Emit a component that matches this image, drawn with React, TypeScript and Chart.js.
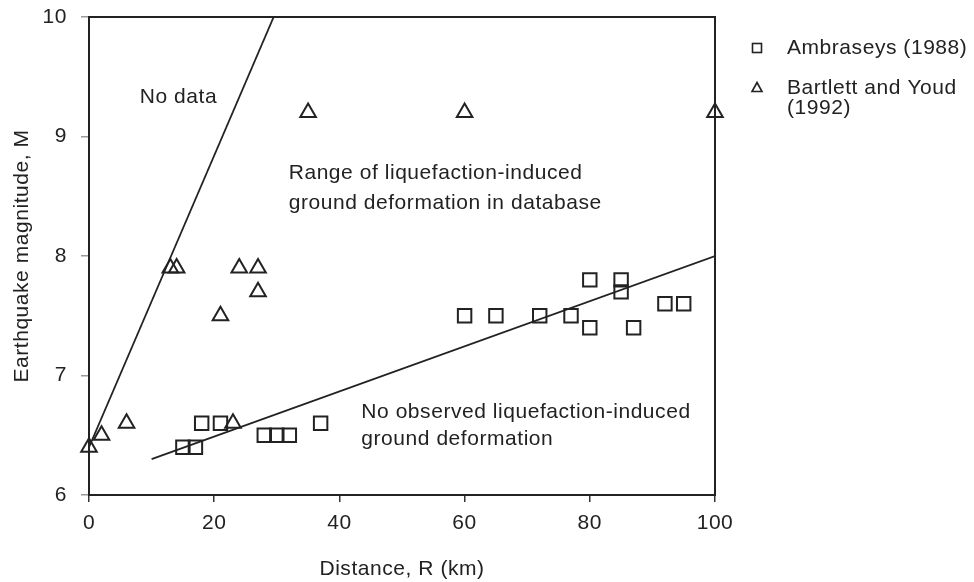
import React, { useEffect, useRef } from "react";
import { Chart, registerables } from "chart.js";

Chart.register(...registerables);

// ---- data ----
const ambraseysR = [15, 17, 18, 21, 28, 30, 32, 37, 60, 65, 72, 77, 80, 80, 85, 85, 87, 92, 95];
const ambraseysM = [6.4, 6.4, 6.6, 6.6, 6.5, 6.5, 6.5, 6.6, 7.5, 7.5, 7.5, 7.5, 7.8, 7.4, 7.8, 7.7, 7.4, 7.6, 7.6];

const bartlettR = [0, 2, 6, 13, 14, 21, 23, 24, 27, 27, 35, 60, 100];
const bartlettM = [6.4, 6.5, 6.6, 7.9, 7.9, 7.5, 6.6, 7.9, 7.9, 7.7, 9.2, 9.2, 9.2];

const upperBoundR = [0, 29.5];
const upperBoundM = [6.4, 10];
const lowerBoundR = [10, 100];
const lowerBoundM = [6.3, 8.0];

const xTickValues = [0, 20, 40, 60, 80, 100];
const yTickValues = [6, 7, 8, 9, 10];

const seriesLabels = ["Ambraseys (1988)", "Bartlett and Youd (1992)"];
const legendLines = [["Ambraseys (1988)"], ["Bartlett and Youd", "(1992)"]];

const noteTexts = [
  "No data",
  "Range of liquefaction-induced",
  "ground deformation in database",
  "No observed liquefaction-induced",
  "ground deformation",
];
const noteR = [8.1, 31.9, 31.9, 43.5, 43.5];
const noteM = [9.33, 8.69, 8.44, 6.69, 6.47];

const FONT = '"Liberation Sans", Arial, sans-serif';
const INK = "#222";
const FONT_SIZE = 21;
const SPACING = "0.55px";

const zip = (xs: number[], ys: number[]) => xs.map((x, i) => ({ x, y: ys[i] }));

export default function App() {
  const ref = useRef<HTMLCanvasElement>(null);

  useEffect(() => {
    const canvas = ref.current;
    if (!canvas) return;
    const c2d: any = canvas.getContext("2d");
    if (c2d) c2d.letterSpacing = SPACING;

    const decor = {
      id: "decor",
      beforeDraw(chart: any) {
        (chart.ctx as any).letterSpacing = SPACING;
      },
      afterDatasetsDraw(chart: any) {
        const { ctx, chartArea: a, scales } = chart;
        ctx.save();
        // frame
        ctx.strokeStyle = INK;
        ctx.lineWidth = 2;
        ctx.strokeRect(a.left, a.top, a.right - a.left, a.bottom - a.top);
        // notes
        ctx.fillStyle = INK;
        ctx.font = `${FONT_SIZE}px ${FONT}`;
        ctx.textBaseline = "middle";
        ctx.textAlign = "left";
        noteTexts.forEach((t, i) => {
          ctx.fillText(t, scales.x.getPixelForValue(noteR[i]), scales.y.getPixelForValue(noteM[i]));
        });
        // legend
        const mx = a.right + 42;
        const tx = a.right + 72;
        const rows = [a.top + 31, a.top + 71];
        ctx.lineWidth = 1.6;
        ctx.strokeRect(mx - 4.5, rows[0] - 4.5, 9, 9);
        ctx.beginPath();
        ctx.moveTo(mx, rows[1] - 5.5);
        ctx.lineTo(mx + 5, rows[1] + 3.5);
        ctx.lineTo(mx - 5, rows[1] + 3.5);
        ctx.closePath();
        ctx.stroke();
        legendLines.forEach((lines, i) => {
          lines.forEach((ln, j) => ctx.fillText(ln, tx, rows[i] + j * 20));
        });
        ctx.restore();
      },
    };

    const chart = new Chart(canvas, {
      type: "scatter",
      data: {
        datasets: [
          {
            label: seriesLabels[0],
            data: zip(ambraseysR, ambraseysM),
            pointStyle: "rect",
            pointRadius: 9.5,
            pointBorderWidth: 2,
            borderColor: INK,
            backgroundColor: "rgba(255,255,255,0)",
            clip: false,
          },
          {
            label: seriesLabels[1],
            data: zip(bartlettR, bartlettM),
            pointStyle: "triangle",
            pointRadius: 9,
            pointBorderWidth: 2,
            borderColor: INK,
            backgroundColor: "rgba(255,255,255,0)",
            clip: false,
          },
          {
            label: "upper",
            data: zip(upperBoundR, upperBoundM),
            showLine: true,
            pointRadius: 0,
            borderColor: INK,
            borderWidth: 1.8,
          },
          {
            label: "lower",
            data: zip(lowerBoundR, lowerBoundM),
            showLine: true,
            pointRadius: 0,
            borderColor: INK,
            borderWidth: 1.8,
          },
        ],
      },
      options: {
        animation: false,
        responsive: false,
        layout: { autoPadding: false, padding: { left: 0, top: 17, right: 259, bottom: 0 } },
        plugins: { legend: { display: false }, tooltip: { enabled: false } },
        scales: {
          x: {
            type: "linear",
            min: 0,
            max: 100,
            afterFit: (s: any) => {
              s.height = 87;
              s.paddingLeft = 0;
              s.paddingRight = 0;
            },
            afterBuildTicks: (s: any) => { s.ticks = xTickValues.map((v) => ({ value: v })); },
            grid: { display: true, drawOnChartArea: false, drawTicks: true, tickLength: 7, color: "#333", lineWidth: 1.5 },
            border: { display: true, color: INK, width: 2 },
            ticks: { color: INK, font: { family: FONT, size: FONT_SIZE }, padding: 9 },
            title: { display: true, text: "Distance, R (km)", color: INK, font: { family: FONT, size: FONT_SIZE }, padding: { top: 4, bottom: 0 } },
          },
          y: {
            type: "linear",
            min: 6,
            max: 10,
            afterFit: (s: any) => {
              s.width = 89;
              s.paddingTop = 0;
              s.paddingBottom = 0;
            },
            afterBuildTicks: (s: any) => { s.ticks = yTickValues.map((v) => ({ value: v })); },
            grid: { display: true, drawOnChartArea: false, drawTicks: true, tickLength: 8, color: "#999", lineWidth: 1.5 },
            border: { display: true, color: INK, width: 2 },
            ticks: { color: INK, font: { family: FONT, size: FONT_SIZE }, padding: 14 },
            title: { display: true, text: "Earthquake magnitude, M", color: INK, font: { family: FONT, size: FONT_SIZE }, padding: { top: 10, bottom: 0 } },
          },
        },
      },
      plugins: [decor],
    } as any);

    return () => chart.destroy();
  }, []);

  return (
    <div style={{ position: "absolute", left: 0, top: 0, width: 974, height: 582, background: "#fff" }}>
      <canvas ref={ref} width={974} height={582} style={{ display: "block" }} />
    </div>
  );
}
